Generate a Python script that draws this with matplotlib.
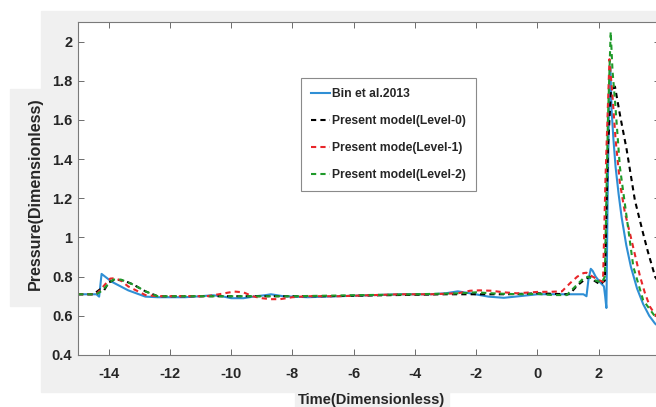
import matplotlib
matplotlib.use("Agg")
import matplotlib.pyplot as plt
from matplotlib.patches import Rectangle

plt.rcParams["font.family"] = ["Liberation Sans", "DejaVu Sans"]
plt.rcParams["font.weight"] = "bold"
plt.rcParams["axes.unicode_minus"] = False

# Bin et al. 2013 (solid blue)
bin_x = [-15, -14.4, -14.31, -14.23, -13.9, -13.36, -12.8, -12.4, -11.5, -11.0, -10.6,
         -10.3, -10.0, -9.6, -9.2, -8.9, -8.7, -8.3, -7.5, -6.5, -5.5, -4.5, -3.5, -3.0,
         -2.6, -2.2, -1.6, -1.1, -0.6, 0.0, 0.6, 1.2, 1.5, 1.6, 1.66, 1.74, 1.8, 1.9, 2.05,
         2.17, 2.21, 2.25, 2.29, 2.34, 2.38, 2.42, 2.48, 2.55, 2.65, 2.75, 2.9, 3.05,
         3.25, 3.45, 3.65, 3.84, 4.0]
bin_y = [0.71, 0.71, 0.698, 0.814, 0.774, 0.73, 0.698, 0.695, 0.695, 0.70, 0.705,
         0.70, 0.69, 0.69, 0.70, 0.705, 0.71, 0.70, 0.695, 0.70, 0.705, 0.71, 0.71, 0.715,
         0.725, 0.715, 0.698, 0.692, 0.70, 0.71, 0.71, 0.71, 0.71, 0.70, 0.78, 0.84, 0.83,
         0.80, 0.77, 0.75, 0.70, 0.64, 1.20, 1.70, 1.87, 1.65, 1.50, 1.36, 1.22, 1.10,
         0.96, 0.85, 0.74, 0.66, 0.60, 0.56, 0.54]

# Present model (Level-0), black dashed
lv0_x = [-15, -14.5, -14.28, -14.15, -14.0, -13.8, -13.5, -13.2, -12.8, -12.4, -11,
         -9, -7, -5, -3, -1, 0.0, 1.0, 1.1, 1.3, 1.5, 1.7, 1.85, 2.05, 2.2, 2.3, 2.4,
         2.53, 2.7, 2.91, 3.18, 3.45, 3.6, 3.84, 4.0]
lv0_y = [0.71, 0.71, 0.735, 0.73, 0.77, 0.785, 0.78, 0.76, 0.725, 0.70, 0.70,
         0.70, 0.70, 0.705, 0.71, 0.71, 0.715, 0.71, 0.72, 0.755, 0.78, 0.80, 0.78, 0.76,
         0.78, 1.45, 1.75, 1.77, 1.62, 1.45, 1.19, 1.02, 0.93, 0.80, 0.76]

# Present mode (Level-1), red dashed
lv1_x = [-15, -14.4, -14.23, -13.95, -13.8, -13.6, -13.36, -12.8, -12.4, -11.5, -10.8,
         -10.4, -9.9, -9.6, -9.3, -9.0, -8.7, -8.4, -8.0, -7.5, -6.5, -5.5, -4.5, -3.5,
         -2.6, -2.2, -1.9, -1.5, -1.1, -0.67, 0.0, 0.5, 0.8, 1.06, 1.3, 1.5, 1.6, 1.8,
         2.04, 2.14, 2.22, 2.35, 2.45, 2.55, 2.69, 2.85, 3.02, 3.2, 3.35, 3.5, 3.67,
         3.87, 4.0]
lv1_y = [0.71, 0.71, 0.74, 0.79, 0.792, 0.78, 0.75, 0.706, 0.70, 0.70, 0.70,
         0.71, 0.724, 0.72, 0.70, 0.69, 0.685, 0.685, 0.695, 0.70, 0.70, 0.705, 0.71, 0.71,
         0.715, 0.728, 0.73, 0.728, 0.72, 0.715, 0.722, 0.723, 0.725, 0.766, 0.80, 0.818,
         0.82, 0.80, 0.78, 0.774, 1.30, 1.91, 1.72, 1.50, 1.28, 1.13, 1.02, 0.90, 0.80,
         0.72, 0.647, 0.60, 0.58]

# Present model (Level-2), green dashed
lv2_x = [-15, -14.4, -14.2, -14.0, -13.85, -13.6, -13.2, -12.8, -12.4, -11, -10, -9,
         -8, -6, -4, -2.5, -2.0, -1.5, -1.0, -0.5, 0.0, 0.5, 0.96, 1.06, 1.3, 1.49, 1.65,
         1.9, 2.1, 2.2, 2.3, 2.39, 2.45, 2.53, 2.69, 2.91, 3.13, 3.45, 3.84, 4.0]
lv2_y = [0.71, 0.71, 0.73, 0.765, 0.785, 0.785, 0.76, 0.725, 0.70, 0.70, 0.70, 0.70,
         0.70, 0.705, 0.71, 0.715, 0.72, 0.715, 0.712, 0.71, 0.712, 0.706, 0.706, 0.723,
         0.76, 0.79, 0.80, 0.78, 0.77, 0.80, 1.60, 2.05, 1.85, 1.70, 1.36, 1.106, 0.85,
         0.68, 0.596, 0.57]

x_ticks = [-14, -12, -10, -8, -6, -4, -2, 0, 2]
y_ticks = [0.4, 0.6, 0.8, 1.0, 1.2, 1.4, 1.6, 1.8, 2.0]
y_labels = ["0.4", "0.6", "0.8", "1", "1.2", "1.4", "1.6", "1.8", "2"]

W, H = 656, 407
fig = plt.figure(figsize=(W / 100, H / 100), dpi=100)
fig.patch.set_facecolor("white")

# grey backdrop pieces of the pasted screenshot
gray = "#f0f0f0"
for (x0, y0, x1, y1) in [(41, 11, 656, 392), (10, 89, 41, 306), (295, 392, 449, 407)]:
    fig.patches.append(Rectangle((x0 / W, 1 - y1 / H), (x1 - x0) / W, (y1 - y0) / H,
                                 transform=fig.transFigure, color=gray, zorder=-10))

ax = fig.add_axes([78 / W, 1 - 355 / H, (660 - 78) / W, (355 - 22) / H])
ax.set_facecolor("white")

ax.plot(bin_x, bin_y, color="#2f8fd5", lw=1.5, label="Bin et al.2013")
ax.plot(lv0_x, lv0_y, color="black", lw=1.5, dashes=(2.5, 2), label="Present model(Level-0)")
ax.plot(lv1_x, lv1_y, color="#e8262a", lw=1.5, dashes=(2.5, 2), label="Present mode(Level-1)")
ax.plot(lv2_x, lv2_y, color="#1f9a2a", lw=1.5, dashes=(2.5, 2), label="Present model(Level-2)")

ax.set_xlim(-15, 4)
ax.set_ylim(0.4, 2.1)
ax.set_xticks(x_ticks)
ax.set_yticks(y_ticks)
ax.set_yticklabels(y_labels)
ax.tick_params(direction="in", length=4.5, width=0.6, color="#555555",
               labelsize=10.5, labelcolor="#262626", top=True, right=True)
ax.tick_params(axis="x", pad=9)
ax.tick_params(axis="y", pad=4)
for sp in ax.spines.values():
    sp.set_color("#7a7a7a")
    sp.set_linewidth(0.8)
for lab in ax.get_xticklabels() + ax.get_yticklabels():
    lab.set_fontweight("bold")

fig.text(372 / W, 1 - 400 / H, "Time(Dimensionless)", ha="center", va="center",
         fontsize=10.5, fontweight="bold", color="#262626")
fig.text(35 / W, 1 - 194 / H, "Pressure(Dimensionless)", ha="center", va="center",
         rotation=90, fontsize=11.6, fontweight="bold", color="#262626")

leg = ax.legend(loc="upper left", bbox_to_anchor=(301 / W, 1 - 78 / H),
                bbox_transform=fig.transFigure, fontsize=8.75, frameon=True,
                fancybox=False, framealpha=1, edgecolor="#8a8a8a",
                handlelength=1.5, handletextpad=0.2, labelspacing=1.22,
                borderpad=0.85, borderaxespad=0)
leg.get_frame().set_linewidth(0.8)
for t in leg.get_texts():
    t.set_fontweight("bold")
    t.set_color("#262626")

fig.savefig("out.png", dpi=100)
